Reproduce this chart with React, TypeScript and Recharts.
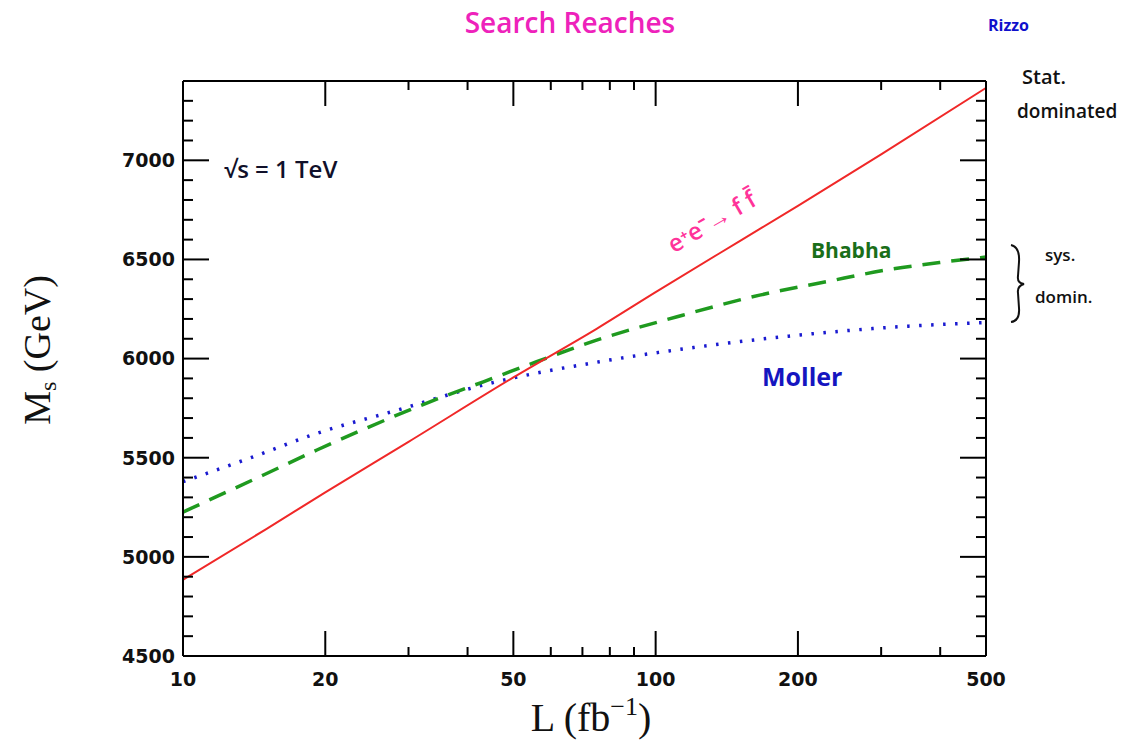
import React from 'react'
import { LineChart, Line, XAxis, YAxis } from 'recharts'

// luminosity (fb^-1) and search reach (GeV)
const eeL = [10, 15, 20, 30, 50, 75, 100, 150, 200, 300, 500]
const eeM = [4885, 5140, 5325, 5580, 5905, 6150, 6335, 6590, 6770, 7030, 7365]

const bhabhaL = [10, 14.8, 19.2, 24.8, 33.3, 43.2, 56, 75, 111, 166, 230, 308, 400, 500]
const bhabhaM = [5226, 5413, 5539, 5656, 5782, 5883, 5984, 6093, 6211, 6320, 6388, 6447, 6485, 6512]

const mollerL = [10, 13.8, 19.2, 28.5, 43.2, 76, 124, 202, 329, 500]
const mollerM = [5379, 5497, 5623, 5741, 5867, 5984, 6060, 6119, 6161, 6182]

const xMajor = [10, 20, 50, 100, 200, 500]
const xTicks = [10, 20, 30, 40, 50, 60, 70, 80, 90, 100, 200, 300, 400, 500]
const yMajor = [4500, 5000, 5500, 6000, 6500, 7000]
const yTicks = [
  4500, 4600, 4700, 4800, 4900, 5000, 5100, 5200, 5300, 5400, 5500, 5600, 5700, 5800, 5900,
  6000, 6100, 6200, 6300, 6400, 6500, 6600, 6700, 6800, 6900, 7000, 7100, 7200, 7300,
]

const toRows = (xs: number[], ys: number[]) => xs.map((L, i) => ({ L, M: ys[i] }))

const tickFont = { fontFamily: 'DejaVu Sans', fontWeight: 700, fontSize: 19, fill: '#111' }

const XTick = (props: any) => {
  const { x, y, payload, side } = props
  const major = xMajor.includes(payload.value)
  const len = major ? 25 : 9
  const dir = side === 'bottom' ? -1 : 1
  return (
    <g>
      <line x1={x} y1={y} x2={x} y2={y + dir * len} stroke="#000" strokeWidth={2} />
      {side === 'bottom' && major && (
        <text x={x} y={y + 30} textAnchor="middle" {...tickFont}>
          {payload.value}
        </text>
      )}
    </g>
  )
}

const YTick = (props: any) => {
  const { x, y, payload, side } = props
  const major = yMajor.includes(payload.value)
  const len = major ? 26 : 10
  const dir = side === 'left' ? 1 : -1
  return (
    <g>
      <line x1={x} y1={y} x2={x + dir * len} y2={y} stroke="#000" strokeWidth={2} />
      {side === 'left' && major && (
        <text x={x - 8} y={y} dy="0.36em" textAnchor="end" {...tickFont}>
          {payload.value}
        </text>
      )}
    </g>
  )
}

const hand = { fontFamily: 'Open Sans', fontWeight: 600 }

export default function App() {
  const axisLine = { stroke: '#000', strokeWidth: 2 }
  return (
    <div style={{ position: 'absolute', left: 0, top: 0, width: 1143, height: 751, background: '#fff' }}>
      <LineChart width={1143} height={751} margin={{ top: 61, right: 137, bottom: 45, left: 83 }}>
        <XAxis
          xAxisId="b"
          type="number"
          dataKey="L"
          scale="log"
          domain={[10, 500]}
          allowDataOverflow
          ticks={xTicks}
          interval={0}
          height={50}
          tickSize={0}
          tickMargin={0}
          tickLine={false}
          axisLine={axisLine}
          tick={<XTick side="bottom" />}
        />
        <XAxis
          xAxisId="t"
          orientation="top"
          type="number"
          dataKey="L"
          scale="log"
          domain={[10, 500]}
          allowDataOverflow
          ticks={xTicks}
          interval={0}
          height={20}
          tickSize={0}
          tickMargin={0}
          tickLine={false}
          axisLine={axisLine}
          tick={<XTick side="top" />}
        />
        <YAxis
          yAxisId="l"
          type="number"
          domain={[4500, 7400]}
          allowDataOverflow
          ticks={yTicks}
          interval={0}
          width={100}
          tickSize={0}
          tickMargin={0}
          tickLine={false}
          axisLine={axisLine}
          tick={<YTick side="left" />}
        />
        <YAxis
          yAxisId="r"
          orientation="right"
          type="number"
          domain={[4500, 7400]}
          allowDataOverflow
          ticks={yTicks}
          interval={0}
          width={20}
          tickSize={0}
          tickMargin={0}
          tickLine={false}
          axisLine={axisLine}
          tick={<YTick side="right" />}
        />
        <Line
          xAxisId="b"
          yAxisId="l"
          data={toRows(mollerL, mollerM)}
          dataKey="M"
          type="monotone"
          stroke="#1a1ad0"
          strokeWidth={3.5}
          strokeDasharray="2.5 9.5"
          dot={false}
          isAnimationActive={false}
        />
        <Line
          xAxisId="b"
          yAxisId="l"
          data={toRows(bhabhaL, bhabhaM)}
          dataKey="M"
          type="monotone"
          stroke="#1f9a1f"
          strokeWidth={3.5}
          strokeDasharray="18 11"
          dot={false}
          isAnimationActive={false}
        />
        <Line
          xAxisId="b"
          yAxisId="l"
          data={toRows(eeL, eeM)}
          dataKey="M"
          type="monotone"
          stroke="#f02828"
          strokeWidth={2}
          dot={false}
          isAnimationActive={false}
        />
      </LineChart>

      <svg
        width={1143}
        height={751}
        style={{ position: 'absolute', left: 0, top: 0, pointerEvents: 'none' }}
      >
        <text x={570} y={33} textAnchor="middle" fontSize={28} fill="#ee22bb" {...hand}>
          Search Reaches
        </text>
        <text x={988} y={31} fontSize={16} fill="#1010cc" fontFamily="Open Sans" fontWeight={700}>
          Rizzo
        </text>
        <text x={1022} y={84} fontSize={20} fill="#111" {...hand}>
          Stat.
        </text>
        <text x={1017} y={118} fontSize={19} fill="#111" {...hand}>
          dominated
        </text>
        <path
          d="M1011,245 Q1020,247 1019,262 L1018,276 Q1017,283 1024,284 Q1017,286 1018,293 L1019,308 Q1020,321 1011,322"
          fill="none"
          stroke="#111"
          strokeWidth={2}
        />
        <text x={1045} y={261} fontSize={17} fill="#111" {...hand}>
          sys.
        </text>
        <text x={1035} y={303} fontSize={17} fill="#111" {...hand}>
          domin.
        </text>
        <text x={224} y={178} fontSize={24} fill="#10102a" {...hand}>
          √s =  1 TeV
        </text>
        <text
          x={712}
          y={230}
          textAnchor="middle"
          fontSize={24}
          fill="#ff3399"
          transform="rotate(-30 712 222)"
          {...hand}
        >
          e⁺e⁻→ f f̄
        </text>
        <text x={811} y={258} fontSize={21} fill="#1a6e1a" fontFamily="Open Sans" fontWeight={700}>
          Bhabha
        </text>
        <text x={762} y={386} fontSize={25} fill="#1515c0" fontFamily="Open Sans" fontWeight={700}>
          Moller
        </text>
        <text x={591} y={731} textAnchor="middle" fontSize={40} fontFamily="Liberation Serif" fill="#111">
          L (fb
          <tspan fontSize={26} dy={-16}>
            −1
          </tspan>
          <tspan dy={16}>)</tspan>
        </text>
        <text
          x={50}
          y={350}
          textAnchor="middle"
          fontSize={38}
          fontFamily="Liberation Serif"
          fill="#111"
          transform="rotate(-90 50 350)"
        >
          M
          <tspan fontSize={24} dy={6}>
            s
          </tspan>
          <tspan dy={-6}> (GeV)</tspan>
        </text>
      </svg>
    </div>
  )
}
